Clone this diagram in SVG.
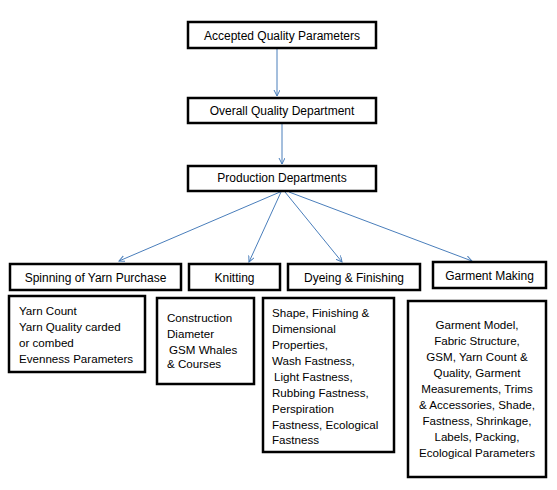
<svg xmlns="http://www.w3.org/2000/svg" width="557" height="490" viewBox="0 0 557 490">
<style>
.box{fill:#fff;stroke:#000;stroke-width:2.5}
text{font-family:"Liberation Sans",Arial,sans-serif;font-size:12px;fill:#000}
.d{font-size:11.6px}
.c{text-anchor:middle}
.con{stroke:#4a7ebb;stroke-width:1;fill:none}
</style>
<defs>
<marker id="ah" markerWidth="8" markerHeight="8" refX="6" refY="3" orient="auto" markerUnits="userSpaceOnUse">
<path d="M0,0 L6,3 L0,6" fill="none" stroke="#4a7ebb" stroke-width="1"/>
</marker>
</defs>
<rect width="557" height="490" fill="#fff"/>
<g id="connectors">
<line class="con" x1="277" y1="49" x2="277" y2="96" marker-end="url(#ah)"/>
<line class="con" x1="282" y1="124" x2="282" y2="164" marker-end="url(#ah)"/>
<line class="con" x1="280" y1="192" x2="119" y2="261" marker-end="url(#ah)"/>
<line class="con" x1="281" y1="192" x2="249" y2="262" marker-end="url(#ah)"/>
<line class="con" x1="285" y1="192" x2="342" y2="262" marker-end="url(#ah)"/>
<line class="con" x1="289" y1="192" x2="472" y2="261" marker-end="url(#ah)"/>
</g>
<g id="accepted"><rect class="box" x="188" y="22" width="188" height="26"/><text class="c" x="282" y="40">Accepted Quality Parameters</text></g>
<g id="overall"><rect class="box" x="188" y="98" width="188" height="25"/><text class="c" x="282" y="115">Overall Quality Department</text></g>
<g id="production"><rect class="box" x="188" y="166" width="188" height="25"/><text class="c" x="282" y="182">Production Departments</text></g>
<g id="spinning"><rect class="box" x="10" y="264" width="171" height="26"/><text class="c" x="95.5" y="282">Spinning of Yarn Purchase</text></g>
<g id="knitting"><rect class="box" x="189" y="264" width="91" height="26"/><text class="c" x="234.5" y="282">Knitting</text></g>
<g id="dyeing"><rect class="box" x="288" y="264" width="132" height="26"/><text class="c" x="354" y="282">Dyeing &amp; Finishing</text></g>
<g id="garment"><rect class="box" x="433" y="262" width="113" height="26"/><text class="c" x="489.5" y="280">Garment Making</text></g>
<g id="spinning-details"><rect class="box" x="9" y="296" width="136" height="76"/>
<text class="d" x="19" y="315">Yarn Count</text>
<text class="d" x="19" y="331">Yarn Quality  carded</text>
<text class="d" x="19" y="347">or combed</text>
<text class="d" x="19" y="363">Evenness Parameters</text>
</g>
<g id="knitting-details"><rect class="box" x="157" y="298" width="97" height="86"/>
<text class="d" x="167" y="322">Construction</text>
<text class="d" x="167" y="338">Diameter</text>
<text class="d" x="169" y="354">GSM  Whales</text>
<text class="d" x="167" y="368">&amp; Courses</text>
</g>
<g id="dyeing-details"><rect class="box" x="263" y="298" width="131" height="154"/>
<text class="d" x="272" y="317">Shape, Finishing &amp;</text>
<text class="d" x="272" y="333">Dimensional</text>
<text class="d" x="272" y="349">Properties,</text>
<text class="d" x="272" y="365">Wash Fastness,</text>
<text class="d" x="274" y="381">Light Fastness,</text>
<text class="d" x="272" y="397">Rubbing Fastness,</text>
<text class="d" x="272" y="413">Perspiration</text>
<text class="d" x="272" y="429">Fastness, Ecological</text>
<text class="d" x="272" y="444">Fastness</text>
</g>
<g id="garment-details"><rect class="box" x="408" y="301" width="138" height="176"/>
<text class="d c" x="477" y="329">Garment Model,</text>
<text class="d c" x="477" y="345">Fabric Structure,</text>
<text class="d c" x="477" y="361">GSM, Yarn Count &amp;</text>
<text class="d c" x="477" y="377">Quality, Garment</text>
<text class="d c" x="477" y="393">Measurements, Trims</text>
<text class="d c" x="477" y="409">&amp; Accessories, Shade,</text>
<text class="d c" x="477" y="425">Fastness, Shrinkage,</text>
<text class="d c" x="477" y="441">Labels, Packing,</text>
<text class="d c" x="477" y="457">Ecological Parameters</text>
</g>
</svg>
